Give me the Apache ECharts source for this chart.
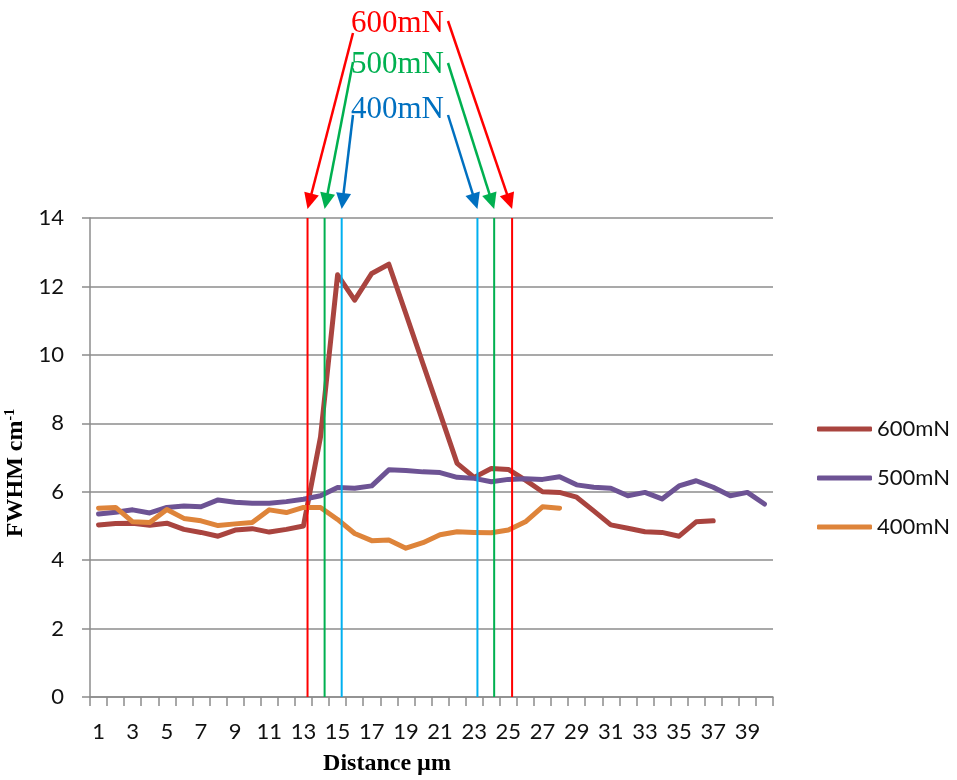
<!DOCTYPE html>
<html>
<head>
<meta charset="utf-8">
<script src="https://cdn.jsdelivr.net/npm/echarts@6/dist/echarts.min.js"></script>
<style>
  html, body { margin: 0; padding: 0; background: #ffffff; }
  #chart { width: 957px; height: 780px; }
</style>
</head>
<body>
<div id="chart"></div>
<script>
// Distance steps along the scan (µm)
const categories = ['1','2','3','4','5','6','7','8','9','10',
  '11','12','13','14','15','16','17','18','19','20',
  '21','22','23','24','25','26','27','28','29','30',
  '31','32','33','34','35','36','37','38','39','40'];

// FWHM (cm-1) per load
const fwhm600 = [5.03, 5.07, 5.08, 5.02, 5.08, 4.90, 4.81, 4.70, 4.88, 4.92,
  4.82, 4.90, 5.00, 7.60, 12.34, 11.60, 12.38, 12.65, 11.20, 9.74,
  8.29, 6.83, 6.42, 6.68, 6.65, 6.34, 6.00, 5.98, 5.84, 5.44,
  5.03, 4.93, 4.83, 4.81, 4.70, 5.12, 5.15];
const fwhm500 = [5.35, 5.40, 5.47, 5.38, 5.54, 5.58, 5.56, 5.76, 5.69, 5.66,
  5.66, 5.71, 5.78, 5.88, 6.12, 6.10, 6.17, 6.64, 6.62, 6.58,
  6.56, 6.42, 6.39, 6.29, 6.36, 6.38, 6.36, 6.44, 6.20, 6.13,
  6.10, 5.88, 5.98, 5.79, 6.17, 6.32, 6.13, 5.88, 5.98, 5.64];
const fwhm400 = [5.52, 5.54, 5.12, 5.10, 5.48, 5.22, 5.15, 5.01, 5.06, 5.10,
  5.47, 5.39, 5.54, 5.54, 5.19, 4.78, 4.57, 4.59, 4.35, 4.51,
  4.74, 4.83, 4.81, 4.80, 4.88, 5.12, 5.56, 5.52];

const seriesNames = ['600mN', '500mN', '400mN'];

// Y axis range and step
const yMin = 0, yMax = 14, yStep = 2;

// Indent edges for each load, measured in category widths from the axis origin
const edges600 = [12.74, 24.72];
const edges500 = [13.74, 23.67];
const edges400 = [14.74, 22.69];

const lineColors = ['#A9443F', '#6D5394', '#DE843A'];
const edgeColors = ['#FF0000', '#00B050', '#00B0F0'];
const arrowColors = ['#FF0000', '#00B050', '#0070C0'];

const sans = 'Lato, "Liberation Sans", sans-serif';
const serif = '"Liberation Serif", "Times New Roman", serif';

const chart = echarts.init(document.getElementById('chart'), null, { renderer: 'canvas' });

function dataSeries(name, values, color) {
  return {
    name: name,
    type: 'line',
    xAxisIndex: 0,
    yAxisIndex: 0,
    data: values,
    symbol: 'none',
    showSymbol: false,
    lineStyle: { color: color, width: 5, join: 'round', cap: 'round' },
    itemStyle: { color: color },
    z: 3,
    animation: false
  };
}

function edgeSeries(tag, xs, color) {
  return xs.map(function (x, k) {
    return {
      name: tag + '_' + k,
      type: 'line',
      xAxisIndex: 1,
      yAxisIndex: 0,
      data: [[x, yMin], [x, yMax]],
      symbol: 'none',
      lineStyle: { color: color, width: 2 },
      z: 6,
      silent: true,
      animation: false
    };
  });
}

const gridLine = '#8C8C8C';

chart.setOption({
  backgroundColor: '#ffffff',
  animation: false,
  grid: { left: 90, right: 184, top: 218, bottom: 83, containLabel: false, outerBoundsMode: 'none' },
  legend: {
    data: seriesNames,
    orient: 'vertical',
    left: 812,
    top: 413,
    itemWidth: 55,
    itemHeight: 5,
    itemGap: 27,
    icon: 'roundRect',
    textStyle: { fontFamily: sans, fontSize: 22, color: '#111111' }
  },
  xAxis: [{
    type: 'category',
    data: categories,
    boundaryGap: true,
    axisLine: { show: true, lineStyle: { color: gridLine, width: 1.5 } },
    axisTick: { show: true, interval: 0, length: 9, lineStyle: { color: gridLine, width: 1.5 } },
    axisLabel: { interval: 1, margin: 24, fontFamily: sans, fontSize: 22, color: '#111111' },
    splitLine: { show: false },
    name: 'Distance µm',
    nameLocation: 'middle',
    nameGap: 55,
    nameTextStyle: { fontFamily: serif, fontWeight: 'bold', fontSize: 24, color: '#000000', padding: [0, 89, 0, 0] }
  }, {
    type: 'value',
    min: 0,
    max: categories.length,
    show: false
  }],
  yAxis: [{
    type: 'value',
    min: yMin,
    max: yMax,
    interval: yStep,
    axisLine: { show: true, lineStyle: { color: gridLine, width: 1.5 } },
    axisTick: { show: true, length: 8, lineStyle: { color: gridLine, width: 1.5 } },
    axisLabel: { margin: 26, fontFamily: sans, fontSize: 22, color: '#111111' },
    splitLine: { show: true, lineStyle: { color: gridLine, width: 1.5 } },
    name: '{t|FWHM cm}{s|-1}',
    nameLocation: 'middle',
    nameRotate: 90,
    nameGap: 56,
    nameTextStyle: {
      padding: [0, 31, 0, 0],
      rich: {
        t: { fontFamily: serif, fontWeight: 'bold', fontSize: 24, color: '#000000' },
        s: { fontFamily: serif, fontWeight: 'bold', fontSize: 14, color: '#000000', verticalAlign: 'top', padding: [0, 0, 10, 0] }
      }
    }
  }],
  series: [
    dataSeries(seriesNames[0], fwhm600, lineColors[0]),
    dataSeries(seriesNames[1], fwhm500, lineColors[1]),
    dataSeries(seriesNames[2], fwhm400, lineColors[2])
  ].concat(
    edgeSeries('edge600', edges600, edgeColors[0]),
    edgeSeries('edge500', edges500, edgeColors[1]),
    edgeSeries('edge400', edges400, edgeColors[2])
  )
});

// Callout labels with arrows pointing at the top of each indent edge
function arrow(x1, y1, x2, y2, color) {
  const dx = x2 - x1, dy = y2 - y1;
  const len = Math.hypot(dx, dy);
  const ux = dx / len, uy = dy / len;
  const head = 16, half = 7.5;
  const bx = x2 - ux * head, by = y2 - uy * head;
  return [
    { type: 'line', silent: true, z: 10,
      shape: { x1: x1, y1: y1, x2: bx + ux * 1, y2: by + uy * 1 },
      style: { stroke: color, lineWidth: 2.5 } },
    { type: 'polygon', silent: true, z: 10,
      shape: { points: [[x2, y2], [bx - uy * half, by + ux * half], [bx + uy * half, by - ux * half]] },
      style: { fill: color } }
  ];
}

const edgeSets = [edges600, edges500, edges400];
const labelLeft = 351;
const labelMidY = [21, 62, 107];
const leftStartY = [33, 62, 115];
const rightStartY = [21, 63, 115];
const graphics = [];
edgeSets.forEach(function (edges, i) {
  const c = arrowColors[i];
  graphics.push({
    type: 'text', silent: true, z: 11,
    left: labelLeft, top: labelMidY[i] - 13,
    style: { text: seriesNames[i], fill: c, font: '31px ' + serif }
  });
  const pL = chart.convertToPixel({ xAxisIndex: 1, yAxisIndex: 0 }, [edges[0], yMax]);
  const pR = chart.convertToPixel({ xAxisIndex: 1, yAxisIndex: 0 }, [edges[1], yMax]);
  arrow(labelLeft + 2, leftStartY[i], pL[0], pL[1] - 9, c).forEach(function (g) { graphics.push(g); });
  arrow(labelLeft + 97, rightStartY[i], pR[0], pR[1] - 9, c).forEach(function (g) { graphics.push(g); });
});
chart.setOption({ graphic: graphics });
</script>
</body>
</html>
